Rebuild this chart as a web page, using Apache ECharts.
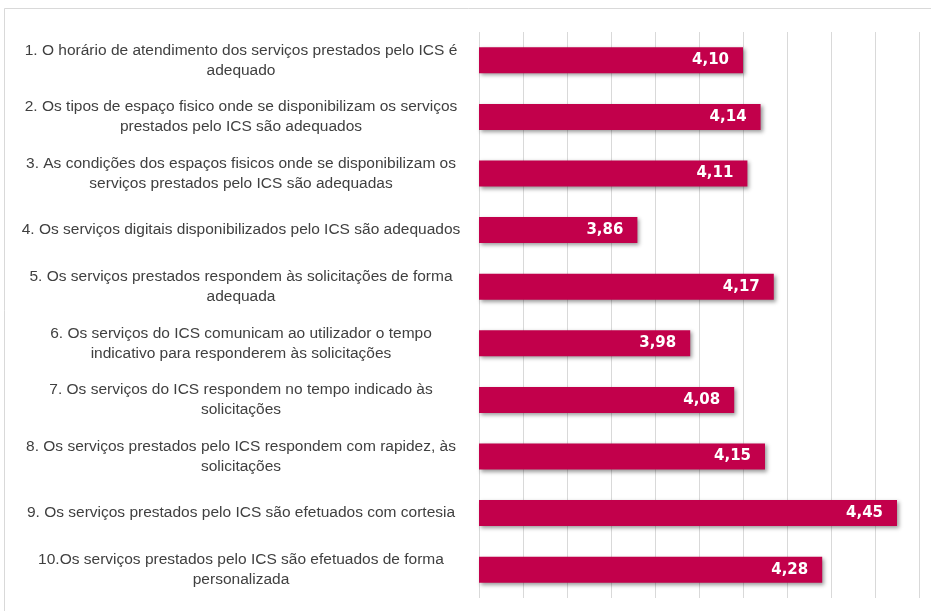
<!DOCTYPE html>
<html>
<head>
<meta charset="utf-8">
<script src="https://cdn.jsdelivr.net/npm/echarts@6/dist/echarts.min.js"></script>
<style>
html,body{margin:0;padding:0;background:#fff;}
#chart{width:931px;height:611px;}
</style>
</head>
<body>
<div id="chart"></div>
<script>
const categories = [
  "1. O horário de atendimento dos serviços prestados pelo ICS é\nadequado",
  "2. Os tipos de espaço fisico onde se disponibilizam os serviços\nprestados pelo ICS são adequados",
  "3. As condições dos espaços fisicos onde se disponibilizam os\nserviços prestados pelo ICS são adequadas",
  "4. Os serviços digitais disponibilizados pelo ICS são adequados",
  "5. Os serviços prestados respondem às solicitações de forma\nadequada",
  "6. Os serviços do ICS comunicam ao utilizador o tempo\nindicativo para responderem às solicitações",
  "7. Os serviços do ICS respondem no tempo indicado às\nsolicitações",
  "8. Os serviços prestados pelo ICS respondem com rapidez, às\nsolicitações",
  "9. Os serviços prestados pelo ICS são efetuados com cortesia",
  "10.Os serviços prestados pelo ICS são efetuados de forma\npersonalizada"
];
const values = [4.10, 4.14, 4.11, 3.86, 4.17, 3.98, 4.08, 4.15, 4.45, 4.28];
const axisMin = 3.5;
const axisMax = 4.5;
const axisStep = 0.1;

const chart = echarts.init(document.getElementById('chart'));
chart.setOption({
  animation: false,
  backgroundColor: '#ffffff',
  graphic: [{
    type: 'rect',
    shape: {x: 4.5, y: 8.5, width: 940, height: 620},
    style: {fill: 'none', stroke: '#d9d9d9', lineWidth: 1},
    silent: true,
    z: -1
  }],
  grid: {left: 479, right: 12, top: 32, bottom: 13, containLabel: false},
  xAxis: {
    type: 'value',
    min: axisMin,
    max: axisMax,
    interval: axisStep,
    axisLabel: {show: false},
    axisLine: {show: false},
    axisTick: {show: false},
    splitLine: {show: true, lineStyle: {color: '#d9d9d9', width: 1}}
  },
  yAxis: {
    type: 'category',
    inverse: true,
    data: categories,
    axisLine: {show: false},
    axisTick: {show: false},
    axisLabel: {
      align: 'center',
      margin: 238,
      color: '#404040',
      fontFamily: 'Liberation Sans',
      fontSize: 15.5,
      lineHeight: 20
    }
  },
  series: [{
    type: 'bar',
    data: values,
    barCategoryGap: '54%',
    itemStyle: {
      color: '#c2004b',
      shadowColor: 'rgba(0,0,0,0.4)',
      shadowBlur: 4,
      shadowOffsetX: 2,
      shadowOffsetY: 2
    },
    label: {
      show: true,
      position: 'insideRight',
      distance: 14,
      color: '#ffffff',
      fontFamily: 'DejaVu Sans',
      fontWeight: 'bold',
      fontSize: 15,
      formatter: p => p.value.toFixed(2).replace('.', ',')
    }
  }]
});
</script>
</body>
</html>
